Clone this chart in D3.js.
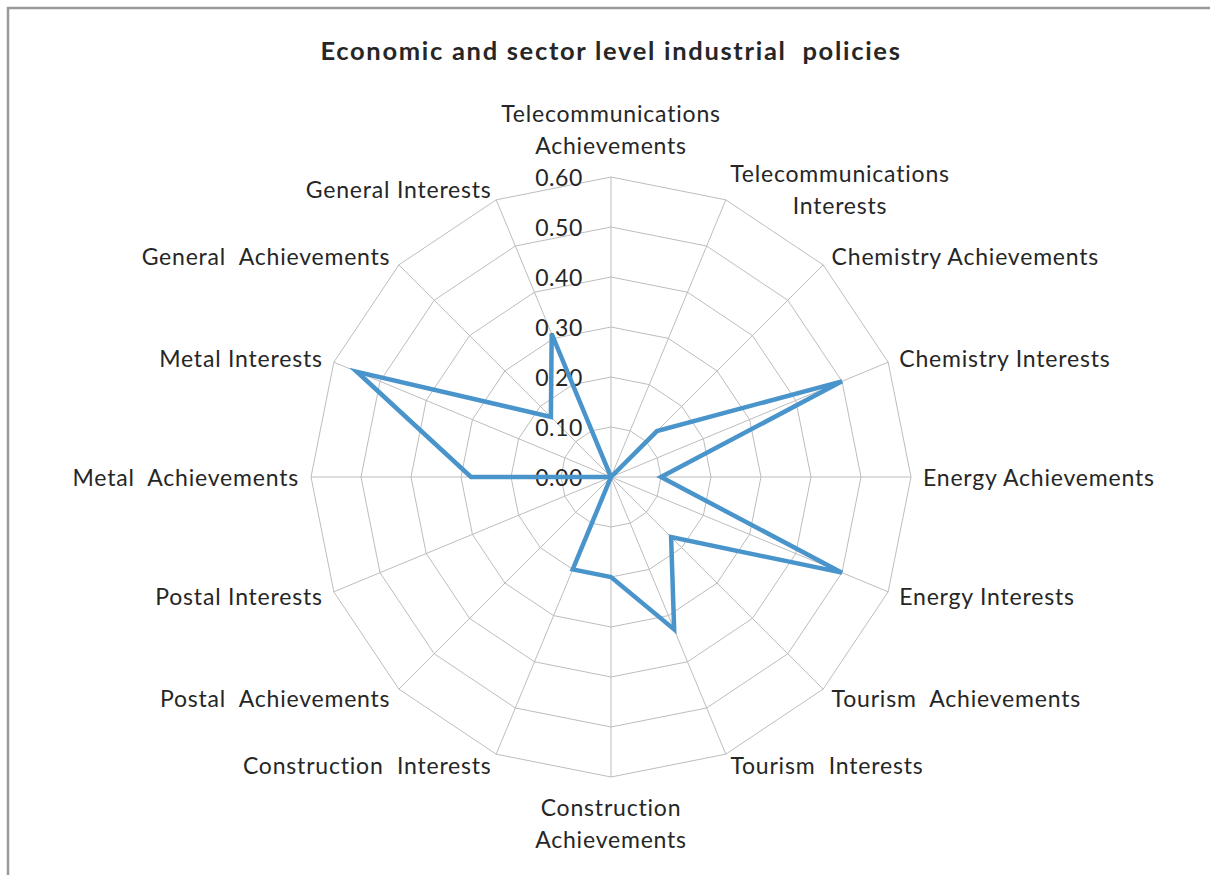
<!DOCTYPE html>
<html>
<head>
<meta charset="utf-8">
<title>Economic and sector level industrial policies</title>
<script src="https://cdn.jsdelivr.net/npm/d3@7"></script>
<style>
  body { margin: 0; background: #ffffff; }
  svg text { font-family: Lato, "Open Sans", sans-serif; fill: #262626; white-space: pre; }
</style>
</head>
<body>
<div id="radarChart"></div>
<script>
////////////////////////////////////////////////////////////////////////
//
// Chart data
//
////////////////////////////////////////////////////////////////////////
var axisLabels = [
  ["Telecommunications", "Achievements"],
  ["Telecommunications", "Interests"],
  ["Chemistry Achievements"],
  ["Chemistry Interests"],
  ["Energy Achievements"],
  ["Energy Interests"],
  ["Tourism  Achievements"],
  ["Tourism  Interests"],
  ["Construction", "Achievements"],
  ["Construction  Interests"],
  ["Postal  Achievements"],
  ["Postal Interests"],
  ["Metal  Achievements"],
  ["Metal Interests"],
  ["General  Achievements"],
  ["General Interests"]
];
var seriesValues = [0.00, 0.00, 0.13, 0.50, 0.10, 0.50, 0.17, 0.33, 0.20, 0.20, 0.00, 0.00, 0.28, 0.55, 0.17, 0.31];
var tickValues = [0.00, 0.10, 0.20, 0.30, 0.40, 0.50, 0.60];
var chartTitle = "Economic and sector level industrial  policies";


////////////////////////////////////////////////////////////////////////
//
// Will draw the whole chart
//
////////////////////////////////////////////////////////////////////////
function init()
  {
  var width = 1210;
  var height = 875;
  var cx = 611;
  var cy = 477;
  var radius = 300;

  var svg = d3.select("#radarChart")
    .append("svg")
    .attr("width", width)
    .attr("height", height);

  //Outer frame (only top and left edges show in the picture)
  svg.append("path")
    .attr("d", "M8," + height + "V8H" + width)
    .attr("fill", "none")
    .attr("stroke", "#9a9a9a")
    .attr("stroke-width", 2.5);

  //Title
  svg.append("text")
    .attr("x", 611)
    .attr("y", 50)
    .attr("text-anchor", "middle")
    .attr("dominant-baseline", "central")
    .style("font-size", "25.5px")
    .style("font-weight", "bold")
    .style("letter-spacing", "1.7px")
    .text(chartTitle);

  var r = d3.scaleLinear().domain([0, d3.max(tickValues)]).range([0, radius]);
  var angle = d3.scaleLinear().domain([0, axisLabels.length]).range([0, 2 * Math.PI]);

  var g = svg.append("g").attr("transform", "translate(" + cx + "," + cy + ")");

  // helper: polar -> cartesian, angle clockwise from top
  function pt(i, v)
    {
    var a = angle(i);
    return [r(v) * Math.sin(a), -r(v) * Math.cos(a)];
    }

  //Grid rings
  var ringLine = d3.line();
  g.selectAll(".ring")
    .data(tickValues.filter(function(t) { return t > 0; }))
    .enter()
    .append("path")
    .attr("class", "ring")
    .attr("d", function(t) { return ringLine(axisLabels.map(function(d, i) { return pt(i, t); })) + "Z"; })
    .attr("fill", "none")
    .attr("stroke", "#bdbdbd")
    .attr("stroke-width", 1);

  //Spokes
  g.selectAll(".spoke")
    .data(axisLabels)
    .enter()
    .append("line")
    .attr("class", "spoke")
    .attr("x1", 0)
    .attr("y1", 0)
    .attr("x2", function(d, i) { return pt(i, d3.max(tickValues))[0]; })
    .attr("y2", function(d, i) { return pt(i, d3.max(tickValues))[1]; })
    .attr("stroke", "#bdbdbd")
    .attr("stroke-width", 1);

  //Tick labels up the top spoke
  g.selectAll(".tick")
    .data(tickValues)
    .enter()
    .append("text")
    .attr("class", "tick")
    .attr("x", -28)
    .attr("y", function(t) { return -r(t); })
    .attr("text-anchor", "end")
    .attr("dominant-baseline", "central")
    .style("font-size", "23px")
    .style("letter-spacing", "0.6px")
    .text(d3.format(".2f"));

  //Series line
  g.append("path")
    .datum(seriesValues)
    .attr("d", function(vals) { return d3.line()(vals.map(function(v, i) { return pt(i, v); })) + "Z"; })
    .attr("fill", "none")
    .attr("stroke", "#4a94cc")
    .attr("stroke-width", 4.5)
    .attr("stroke-linejoin", "miter");

  drawAxisLabels(g, pt, d3.max(tickValues));
  }


////////////////////////////////////////////////////////////////////////
//
// Category labels placed just outside the end of each spoke
//
////////////////////////////////////////////////////////////////////////
function drawAxisLabels(g, pt, maxValue)
  {
  var gap = 12;
  var lineHeight = 32;

  axisLabels.forEach(function(lines, i)
    {
    var end = pt(i, maxValue);
    var len = Math.sqrt(end[0] * end[0] + end[1] * end[1]);
    var ux = end[0] / len;
    var uy = end[1] / len;
    var px = end[0] + ux * gap;
    var py = end[1] + uy * gap;

    var label = g.append("text")
      .attr("class", "axisLabel")
      .style("font-size", "23px")
      .style("letter-spacing", "0.8px");

    var anchor = "middle";
    if (ux > 0.1) anchor = "start";
    if (ux < -0.1) anchor = "end";

    //Multi line labels are centred inside their own box
    var boxWidth = 0;
    lines.forEach(function(s, k)
      {
      label.append("tspan").text(s);
      });
    label.selectAll("tspan").each(function() { boxWidth = Math.max(boxWidth, this.getComputedTextLength()); });

    var boxLeft;
    if (anchor === "start") boxLeft = px;
    else if (anchor === "end") boxLeft = px - boxWidth;
    else boxLeft = px - boxWidth / 2;

    var firstY;
    if (Math.abs(ux) <= 0.1 && uy < 0) firstY = py - 8 - (lines.length - 1) * lineHeight - 12;
    else if (Math.abs(ux) <= 0.1 && uy > 0) firstY = py + 6 + 12;
    else firstY = py - (lines.length - 1) * lineHeight / 2;

    label.selectAll("tspan")
      .attr("x", boxLeft + boxWidth / 2)
      .attr("y", function(d, k) { return firstY + k * lineHeight; })
      .attr("text-anchor", "middle")
      .attr("dominant-baseline", "central");
    });
  }

init();
</script>
</body>
</html>
